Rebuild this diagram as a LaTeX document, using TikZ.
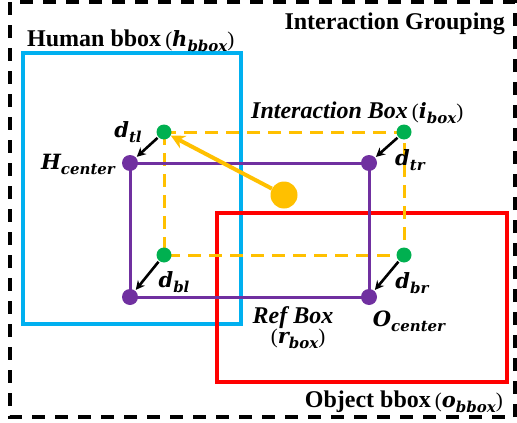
\documentclass[tikz,border=0pt]{standalone}
\usepackage{fontspec}
\setmainfont{Liberation Serif}
\newfontfamily\mfont{DejaVu Serif}
\usetikzlibrary{arrows.meta}
\definecolor{hcyan}{HTML}{00B0F0}
\definecolor{ored}{HTML}{FF0000}
\definecolor{rpurple}{HTML}{7030A0}
\definecolor{iyellow}{HTML}{FFC000}
\definecolor{cgreen}{HTML}{00B050}
\newcommand\mv[2]{{\mfont\bfseries\itshape #1\raisebox{-0.28em}{\fontsize{15}{15}\selectfont #2}}}
\newcommand\pv[2]{{\mdseries\upshape(}\mv{#1}{#2}{\mdseries\upshape)}}
\tikzset{
  lbl/.style={font=\fontsize{24}{26}\selectfont\bfseries, inner sep=0pt},
  ilbl/.style={font=\fontsize{24}{26}\selectfont\bfseries\itshape, inner sep=0pt},
  mlbl/.style={font=\fontsize{21}{23}\selectfont, inner sep=0pt},
  gdot/.style={circle, fill=cgreen, minimum size=15pt, inner sep=0pt},
  pdot/.style={circle, fill=rpurple, minimum size=16pt, inner sep=0pt},
  ydot/.style={circle, fill=iyellow, minimum size=27pt, inner sep=0pt},
  darrow/.style={-{Stealth[length=9pt,width=9pt]}, line width=2.6pt, black, shorten >=1pt, shorten <=1pt},
}
\begin{document}
\begin{tikzpicture}[x=1pt,y=-1pt]
\useasboundingbox (0,0) rectangle (517,423);
% outer grouping
\draw[line width=3.5pt, dash pattern=on 13pt off 10pt] (10,2) rectangle (515,417);
% human bbox
\draw[hcyan, line width=3.5pt] (23,53) rectangle (241,324);
% object bbox
\draw[ored, line width=3.5pt] (217,213) rectangle (507,382);
% interaction box
\draw[iyellow, line width=3pt, dash pattern=on 13pt off 8pt] (164,132) rectangle (404,255);
% ref box
\draw[rpurple, line width=3pt] (130,163) rectangle (369,297);
% dots
\node[gdot] (gtl) at (164,132) {};
\node[gdot] (gtr) at (404,132) {};
\node[gdot] (gbl) at (164,255) {};
\node[gdot] (gbr) at (404,255) {};
\node[pdot] (ptl) at (130,163) {};
\node[pdot] (ptr) at (369,163) {};
\node[pdot] (pbl) at (130,297) {};
\node[pdot] (pbr) at (369,297) {};
\node[ydot] (yc) at (284,195) {};
% arrows
\draw[darrow] (gtl) -- (ptl);
\draw[darrow] (gtr) -- (ptr);
\draw[darrow] (gbl) -- (pbl);
\draw[darrow] (gbr) -- (pbr);
\draw[iyellow, line width=4pt, -{Stealth[length=14pt,width=14pt]}] (yc) -- (gtl);
% labels
\node[lbl, anchor=base east] (tgroup) at (505,29) {Interaction Grouping};
\node[lbl, anchor=base west] (thum) at (27,46) {Human bbox\,{\fontsize{21}{23}\selectfont\pv{h}{bbox}}};
\node[ilbl, anchor=base west] (tint) at (251,118) {Interaction Box\,{\fontsize{21}{23}\selectfont\pv{i}{box}}};
\node[mlbl, anchor=base] (tdtl) at (128,137) {\mv{d}{tl}};
\node[mlbl, anchor=base] (thc) at (78,169) {\mv{H}{center}};
\node[mlbl, anchor=base] (tdtr) at (410,165) {\mv{d}{tr}};
\node[mlbl, anchor=base] (tdbl) at (174,287) {\mv{d}{bl}};
\node[mlbl, anchor=base] (tdbr) at (412,288) {\mv{d}{br}};
\node[ilbl, anchor=base] (tref) at (293,323) {Ref Box};
\node[mlbl, anchor=base] (trb) at (298,343) {\pv{r}{box}};
\node[mlbl, anchor=base] (toc) at (409,326) {\mv{O}{center}};
\node[lbl, anchor=base east] (tobj) at (503,407) {Object bbox\,{\fontsize{21}{23}\selectfont\pv{o}{bbox}}};
\end{tikzpicture}
\end{document}
